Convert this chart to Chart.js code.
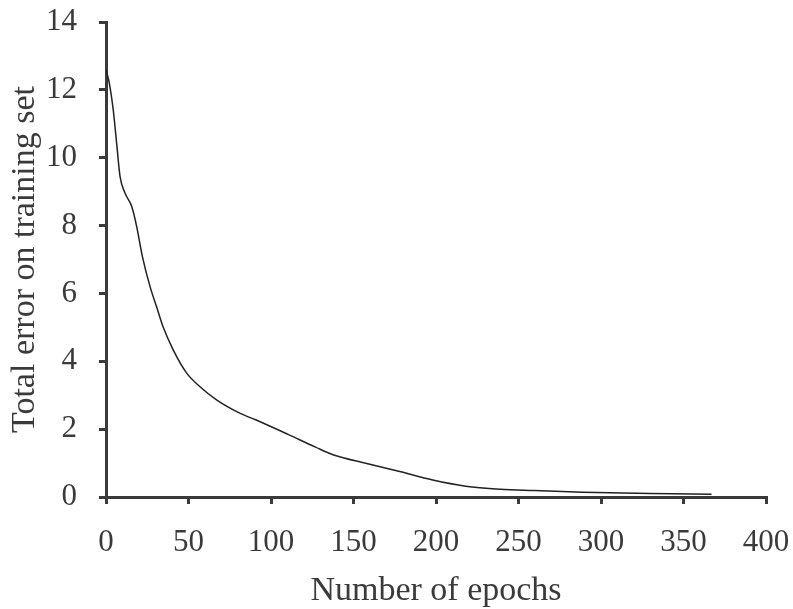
<!DOCTYPE html>
<html>
<head>
<meta charset="utf-8">
<script src="https://cdn.jsdelivr.net/npm/chart.js@4"></script>
<style>
  body { margin: 0; background: #fff; }
  #wrap { width: 793px; height: 609px; }
</style>
</head>
<body>
<div id="wrap"><canvas id="errorChart"></canvas></div>
<script>
// training curve
const epochs = [0, 2, 4.4, 6.5, 8.5, 11.5, 15.6, 18.6, 22, 26.7, 30.7, 34.7, 40.8, 48.9, 57, 67, 81, 91, 111, 127, 138, 158, 178, 198, 218, 239, 259, 289, 330, 367];
const totalError = [12.6, 12.2, 11.4, 10.4, 9.45, 8.96, 8.56, 7.97, 7.1, 6.2, 5.6, 5.0, 4.33, 3.65, 3.25, 2.86, 2.47, 2.27, 1.83, 1.47, 1.24, 0.99, 0.75, 0.5, 0.32, 0.23, 0.19, 0.14, 0.1, 0.08];
const xTicks = [0, 50, 100, 150, 200, 250, 300, 350, 400];
const yTicks = [0, 2, 4, 6, 8, 10, 12, 14];

const axisColor = "#3a3a3a";
const serif = "'Liberation Serif', 'DejaVu Serif', serif";

new Chart(document.getElementById("errorChart"), {
  type: "line",
  data: {
    datasets: [
      {
        data: epochs.map((x, i) => ({ x: x, y: totalError[i] })),
        borderColor: "#222",
        borderWidth: 1.5,
        pointRadius: 0,
        fill: false,
        cubicInterpolationMode: "monotone",
      },
    ],
  },
  options: {
    responsive: true,
    maintainAspectRatio: false,
    animation: false,
    layout: { padding: { top: 22, right: 27, left: 0, bottom: 0 } },
    plugins: {
      legend: { display: false },
      tooltip: { enabled: false },
    },
    scales: {
      x: {
        type: "linear",
        min: 0,
        max: 400,
        afterBuildTicks: (scale) => {
          scale.ticks = xTicks.map((v) => ({ value: v }));
        },
        afterFit: (scale) => {
          // fixed band under the plot, no extra side padding for the labels
          scale.height = 112;
          scale.paddingLeft = 0;
          scale.paddingRight = 0;
        },
        grid: {
          drawOnChartArea: false,
          drawTicks: true,
          tickLength: 7,
          lineWidth: 3,
          color: axisColor,
        },
        border: { display: true, width: 3, color: axisColor },
        ticks: {
          padding: 20,
          color: axisColor,
          font: { family: serif, size: 31 },
        },
        title: {
          display: true,
          text: "Number of epochs",
          color: axisColor,
          font: { family: serif, size: 34, lineHeight: 1 },
          padding: { top: 0, bottom: 1 },
        },
      },
      y: {
        min: 0,
        max: 14,
        afterBuildTicks: (scale) => {
          scale.ticks = yTicks.map((v) => ({ value: v }));
        },
        afterFit: (scale) => {
          scale.width = 106;
          scale.paddingTop = 0;
          scale.paddingBottom = 0;
        },
        grid: {
          drawOnChartArea: false,
          drawTicks: true,
          tickLength: 7,
          lineWidth: 3,
          color: axisColor,
        },
        border: { display: true, width: 3, color: axisColor },
        ticks: {
          padding: 22,
          color: axisColor,
          font: { family: serif, size: 31 },
        },
        title: {
          display: true,
          text: "Total error on training set",
          color: axisColor,
          font: { family: serif, size: 34, lineHeight: 1.2 },
          padding: { top: 5, bottom: 0 },
        },
      },
    },
  },
});
</script>
</body>
</html>
